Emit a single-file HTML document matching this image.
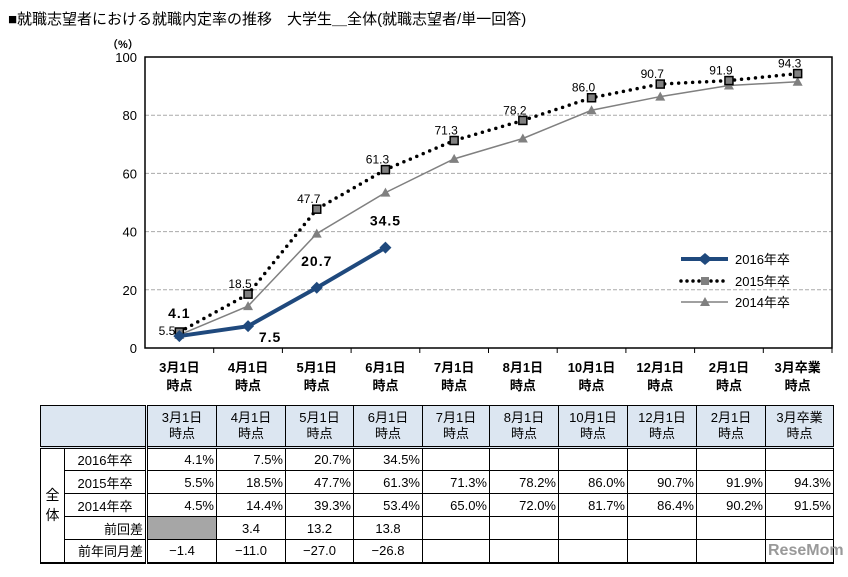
<!DOCTYPE html>
<html><head><meta charset="utf-8"><style>
body{margin:0;background:#fff;font-family:"Liberation Sans","Noto Sans CJK JP",sans-serif;}
#wrap{position:relative;width:848px;height:577px;overflow:hidden;}
table{position:absolute;left:40px;top:405px;border-collapse:collapse;font-size:13px;table-layout:fixed;width:793px;}
td{border:1px solid #000;height:23px;padding:0 2px;text-align:right;box-sizing:border-box;}
th{border:1px solid #000;background:#dce6f1;font-weight:normal;font-size:13px;line-height:16px;text-align:center;height:38px;}
</style></head><body>
<div id="wrap">
<svg id="chart" width="848" height="400" style="position:absolute;left:0;top:0"></svg>
<table>
<colgroup><col style="width:24px"><col style="width:82px"><col style="width:70px"><col style="width:69px"><col style="width:68px"><col style="width:69px"><col style="width:67px"><col style="width:69px"><col style="width:69px"><col style="width:69px"><col style="width:69px"><col style="width:68px"></colgroup>
<tr><th colspan="2" style="border-right:3px double #000"></th>
<th>3月1日<br>時点</th><th>4月1日<br>時点</th><th>5月1日<br>時点</th><th>6月1日<br>時点</th><th>7月1日<br>時点</th><th>8月1日<br>時点</th><th>10月1日<br>時点</th><th>12月1日<br>時点</th><th>2月1日<br>時点</th><th>3月卒業<br>時点</th></tr>
<tr style="border-top:3px double #000"><td rowspan="5" style="text-align:center;font-size:14px">全<br>体</td><td style="text-align:center;border-right:3px double #000">2016年卒</td><td>4.1%</td><td>7.5%</td><td>20.7%</td><td>34.5%</td><td></td><td></td><td></td><td></td><td></td><td></td></tr>
<tr><td style="text-align:center;border-right:3px double #000">2015年卒</td><td>5.5%</td><td>18.5%</td><td>47.7%</td><td>61.3%</td><td>71.3%</td><td>78.2%</td><td>86.0%</td><td>90.7%</td><td>91.9%</td><td>94.3%</td></tr>
<tr><td style="text-align:center;border-right:3px double #000">2014年卒</td><td>4.5%</td><td>14.4%</td><td>39.3%</td><td>53.4%</td><td>65.0%</td><td>72.0%</td><td>81.7%</td><td>86.4%</td><td>90.2%</td><td>91.5%</td></tr>
<tr><td style="border-right:3px double #000">前回差</td><td style="background:#a6a6a6"></td><td style="text-align:center">3.4</td><td style="text-align:center">13.2</td><td style="text-align:center">13.8</td><td></td><td></td><td></td><td></td><td></td><td></td></tr>
<tr style="border-bottom:2px solid #000"><td style="border-right:3px double #000">前年同月差</td><td style="text-align:center">−1.4</td><td style="text-align:center">−11.0</td><td style="text-align:center">−27.0</td><td style="text-align:center">−26.8</td><td></td><td></td><td></td><td></td><td></td><td style="color:#999;font-weight:bold;font-size:16px">ReseMom</td></tr>
</table>
</div>
<script>
const categories=["3月1日|時点","4月1日|時点","5月1日|時点","6月1日|時点","7月1日|時点","8月1日|時点","10月1日|時点","12月1日|時点","2月1日|時点","3月卒業|時点"];
const s2016=[4.1,7.5,20.7,34.5];
const s2015=[5.5,18.5,47.7,61.3,71.3,78.2,86.0,90.7,91.9,94.3];
const s2014=[4.5,14.4,39.3,53.4,65.0,72.0,81.7,86.4,90.2,91.5];
const yTicks=[0,20,40,60,80,100];
const NS="http://www.w3.org/2000/svg";
const svg=document.getElementById('chart');
const L=145,R=832,T=57,B=348;
const step=(R-L)/categories.length;
const x=i=>L+step*(i+0.5);
const y=v=>B-(v/100)*(B-T);
function mk(tag,attrs,parent){const e=document.createElementNS(NS,tag);for(const k in attrs)e.setAttribute(k,attrs[k]);(parent||svg).appendChild(e);return e;}
function txt(s,xx,yy,attrs){const t=mk('text',Object.assign({x:xx,y:yy,'font-family':'"Liberation Sans","Noto Sans CJK JP",sans-serif'},attrs));t.textContent=s;return t;}
let t=txt("■就職志望者における就職内定率の推移　大学生＿全体(就職志望者/単一回答)",8,24,{'font-size':15});

t=txt("（%）",107,48,{'font-size':11,'font-weight':'bold'});

yTicks.forEach(v=>{
 if(v>0&&v<100){const g=mk('line',{x1:L,x2:R,y1:y(v),y2:y(v),stroke:'#aaa','stroke-dasharray':'4,2'});}
 const l=txt(String(v),137,y(v)+5,{'font-size':13,'text-anchor':'end'});
 
});
const box=mk('rect',{x:L,y:T,width:R-L,height:B-T,fill:'none',stroke:'#000','stroke-width':1.5});

categories.forEach((c,i)=>{
 mk('line',{x1:L+step*(i+1),x2:L+step*(i+1),y1:B,y2:B+5,stroke:'#000'});
 const p=c.split('|');
 const a=txt(p[0],x(i),372,{'font-size':13,'text-anchor':'middle','font-weight':'bold'});
 
 const b=txt(p[1],x(i),390,{'font-size':13,'text-anchor':'middle','font-weight':'bold'});
 
});
function pts(a){return a.map((v,i)=>x(i)+','+y(v)).join(' ');}
let l14=mk('polyline',{points:pts(s2014),fill:'none',stroke:'#808080','stroke-width':1.5});

s2014.forEach((v,i)=>{const m=mk('polygon',{points:`${x(i)-5},${y(v)+4} ${x(i)+5},${y(v)+4} ${x(i)},${y(v)-5}`,fill:'#808080'});});
let l15=mk('polyline',{points:pts(s2015),fill:'none',stroke:'#000','stroke-width':3.5,'stroke-dasharray':'0,7','stroke-linecap':'round'});

s2015.forEach((v,i)=>{const m=mk('rect',{x:x(i)-4,y:y(v)-4,width:8,height:8,fill:'#808080',stroke:'#000','stroke-width':1.5});
 const lb=txt(v.toFixed(1),i===0?x(i)-4:x(i)-8,i===0?y(v)+3:y(v)-6,{'font-size':12,'text-anchor':i===0?'end':'middle'});});
let l16=mk('polyline',{points:pts(s2016),fill:'none',stroke:'#1f497d','stroke-width':4});

const off=[[0,-18],[22,16],[0,-22],[0,-22]];
s2016.forEach((v,i)=>{const m=mk('polygon',{points:`${x(i)-6},${y(v)} ${x(i)},${y(v)-6} ${x(i)+6},${y(v)} ${x(i)},${y(v)+6}`,fill:'#1f497d'});
 const lb=txt(v.toFixed(1),x(i)+off[i][0],y(v)+off[i][1],{'font-size':14,'font-weight':'bold','text-anchor':'middle','letter-spacing':'1'});});
const lg=mk('g',{});
mk('line',{x1:681,x2:728,y1:259,y2:259,stroke:'#1f497d','stroke-width':4},lg);
mk('polygon',{points:'698,259 705,253 712,259 705,265',fill:'#1f497d'},lg);
txt('2016年卒',735,264,{'font-size':13});
mk('line',{x1:681,x2:728,y1:281,y2:281,stroke:'#000','stroke-width':3.5,'stroke-dasharray':'0,6','stroke-linecap':'round'},lg);
mk('rect',{x:701,y:277,width:8,height:8,fill:'#808080'},lg);
txt('2015年卒',735,286,{'font-size':13});
mk('line',{x1:681,x2:728,y1:302,y2:302,stroke:'#808080','stroke-width':1.5},lg);
mk('polygon',{points:'700,306 710,306 705,297',fill:'#808080'},lg);
txt('2014年卒',735,307,{'font-size':13});
</script>
</body></html>
